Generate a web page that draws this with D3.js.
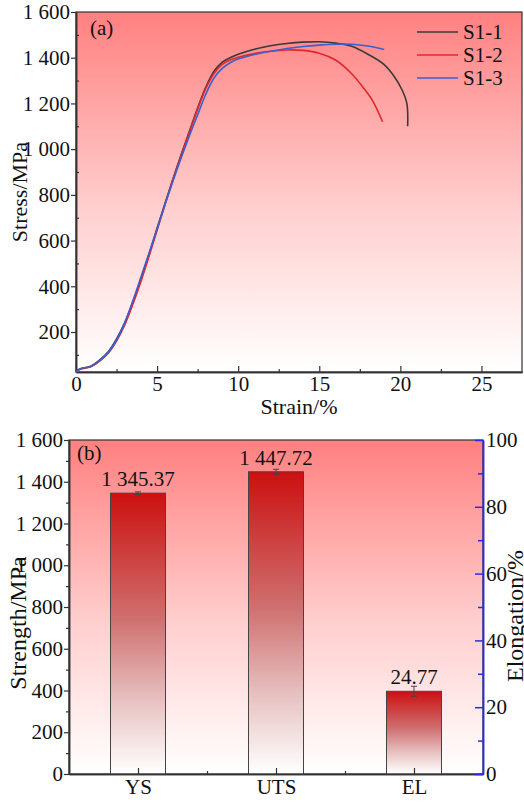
<!DOCTYPE html>
<html>
<head>
<meta charset="utf-8">
<script src="https://cdn.jsdelivr.net/npm/d3@7"></script>
<style>
  body { margin: 0; background: #fff; }
  svg text { font-family: "Liberation Serif", "Times New Roman", serif; fill: #111; }
</style>
</head>
<body>
<div id="chart-area"></div>
<script>
// ---- data (a): stress-strain curves, [strain %, stress MPa]
var s11 = [[0,30],[0.3,40],[0.9,50],[1.5,80],[2,115],[2.5,170],[3,240],[3.5,330],[4,430],[4.5,540],
    [5,655],[5.5,765],[6,875],[6.5,980],[7,1080],[7.5,1180],[8,1270],[8.5,1340],[9,1380],[9.5,1400],
    [10,1415],[11,1437],[12,1452],[13,1462],[14,1468],[15,1470],[16,1464],[17,1450],[18,1415],
    [19,1370],[19.6,1320],[20.1,1260],[20.4,1200],[20.45,1100]];
var s12 = [[0,28],[0.3,38],[0.9,48],[1.5,75],[2,108],[2.5,160],[3,230],[3.5,320],[4,420],[4.5,530],
    [5,645],[5.5,760],[6,870],[6.5,975],[7,1075],[7.5,1175],[8,1265],[8.5,1330],[9,1370],[9.5,1390],
    [10,1402],[11,1418],[12,1428],[13,1434],[14,1432],[15,1420],[16,1390],[17,1330],[17.7,1270],
    [18.3,1210],[18.9,1120]];
var s13 = [[0,25],[0.4,42],[0.9,48],[1.5,78],[2,112],[2.5,165],[3,240],[3.5,335],[4,440],[4.5,545],
    [5,650],[5.5,760],[6,865],[6.5,965],[7,1060],[7.5,1150],[8,1240],[8.5,1310],[9,1352],[9.5,1378],
    [10,1394],[11,1414],[12,1428],[13,1440],[14,1449],[15,1455],[16,1459],[17,1459],[18,1451],[19,1436]];
var seriesNames = ["S1-1", "S1-2", "S1-3"];
var seriesColours = ["#3a3a3a", "#e0282c", "#3a5fd0"];

// ---- data (b): mechanical properties
var props = ["YS", "UTS", "EL"];
var propValues = [1345.37, 1447.72, 24.77];
var propErrors = [6, 12, 1.5];
var propAxis = ["left", "left", "right"];   // EL is read on the elongation axis

const W = 524, H = 802;
const SERIF = "'Liberation Serif', 'Times New Roman', serif";
var fmt = d3.formatLocale({decimal: ".", thousands: " ", grouping: [3], currency: ["", ""]});

var svg = d3.select("#chart-area").append("svg")
    .attr("width", W)
    .attr("height", H);

var defs = svg.append("defs");
var bg = defs.append("linearGradient").attr("id", "bg")
    .attr("x1", 0).attr("y1", 0).attr("x2", 0).attr("y2", 1);
bg.append("stop").attr("offset", "0%").attr("stop-color", "#ff8080");
bg.append("stop").attr("offset", "55%").attr("stop-color", "#ffcfcf");
bg.append("stop").attr("offset", "100%").attr("stop-color", "#ffffff");

var barGrad = defs.append("linearGradient").attr("id", "barGrad")
    .attr("x1", 0).attr("y1", 0).attr("x2", 0).attr("y2", 1);
barGrad.append("stop").attr("offset", "0%").attr("stop-color", "#cc1010");
barGrad.append("stop").attr("offset", "45%").attr("stop-color", "#cf7070");
barGrad.append("stop").attr("offset", "75%").attr("stop-color", "#e8c4c4");
barGrad.append("stop").attr("offset", "100%").attr("stop-color", "#ffffff");

// ================= panel (a) =================
var marginA = {"left": 76, "right": 2, "top": 12, "bottom": 430};
var wA = W - marginA.left - marginA.right;
var hA = H - marginA.top - marginA.bottom;
var gA = svg.append("g")
    .attr("transform", "translate(" + marginA.left + "," + marginA.top + ")");

var xA = d3.scaleLinear().domain([0, 27.5]).range([0, wA]);
var yA = d3.scaleLinear().domain([25, 1600]).range([hA, 0]);

gA.append("rect")
    .attr("width", wA).attr("height", hA)
    .attr("fill", "url(#bg)")
    .attr("stroke", "#333").attr("stroke-width", 1.2);

// minor ticks
gA.append("g")
    .attr("transform", "translate(0," + hA + ")")
    .call(d3.axisBottom(xA).tickValues([2.5, 7.5, 12.5, 17.5, 22.5]).tickSize(-3).tickSizeOuter(0).tickFormat(""))
gA.append("g")
    .call(d3.axisLeft(yA).tickValues(d3.range(100, 1600, 200)).tickSize(-3).tickSizeOuter(0).tickFormat(""))

var xAxisA = gA.append("g")
    .attr("transform", "translate(0," + hA + ")")
    .call(d3.axisBottom(xA).tickValues([0, 5, 10, 15, 20, 25]).tickSize(-6).tickSizeOuter(0).tickPadding(4));
var yAxisA = gA.append("g")
    .call(d3.axisLeft(yA).tickValues(d3.range(200, 1601, 200)).tickSize(5).tickSizeOuter(0).tickPadding(1)
        .tickFormat(fmt.format(",")));

var line = d3.line()
    .x(function(d){ return xA(d[0]); })
    .y(function(d){ return yA(d[1]); })
    .curve(d3.curveCatmullRom.alpha(0.5));

[s11, s12, s13].forEach(function(s, i){
    gA.append("path")
        .datum(s)
        .attr("fill", "none")
        .attr("stroke", seriesColours[i])
        .attr("stroke-width", 1.6)
        .attr("d", line);
});

// legend
var legend = gA.append("g").attr("transform", "translate(" + (wA - 105) + ",20)");
seriesNames.forEach(function(name, i){
    var row = legend.append("g").attr("transform", "translate(0," + (i * 23) + ")");
    row.append("line")
        .attr("x1", 0).attr("x2", 41)
        .attr("stroke", seriesColours[i]).attr("stroke-width", 1.6);
    row.append("text")
        .attr("x", 46).attr("y", 7)
        .attr("font-size", "21px")
        .text(name);
});

gA.append("text")
    .attr("x", 14).attr("y", 23)
    .attr("font-size", "21px")
    .text("(a)");

//x label
gA.append("text")
    .attr("x", wA / 2)
    .attr("y", hA + 42)
    .attr("font-size", "22px")
    .attr("text-anchor", "middle")
    .text("Strain/%");

//y label
gA.append("text")
    .attr("transform", "rotate(-90)")
    .attr("x", -180)
    .attr("y", -49)
    .attr("font-size", "22px")
    .attr("text-anchor", "middle")
    .text("Stress/MPa");

// ================= panel (b) =================
var marginB = {"left": 69, "right": 41, "top": 440, "bottom": 28};
var wB = W - marginB.left - marginB.right;
var hB = H - marginB.top - marginB.bottom;
var gB = svg.append("g")
    .attr("transform", "translate(" + marginB.left + "," + marginB.top + ")");

var xB = d3.scalePoint().domain(props).range([0, wB]).padding(0.5);
var yB = d3.scaleLinear().domain([0, 1600]).range([hB, 0]);
var yB2 = d3.scaleLinear().domain([0, 100]).range([hB, 0]);
var barWidth = 55;

gB.append("rect")
    .attr("width", wB).attr("height", hB)
    .attr("fill", "url(#bg)")
    .attr("stroke", "#333").attr("stroke-width", 1.2);

function yFor(i){ return propAxis[i] === "right" ? yB2 : yB; }

var bars = gB.selectAll(".bar").data(propValues).enter().append("g").attr("class", "bar");
bars.append("rect")
    .attr("x", function(d, i){ return xB(props[i]) - barWidth / 2; })
    .attr("y", function(d, i){ return yFor(i)(d); })
    .attr("width", barWidth)
    .attr("height", function(d, i){ return hB - yFor(i)(d); })
    .attr("fill", "url(#barGrad)")
    .attr("stroke", "#444")
    .attr("stroke-width", 1);
// error bars
bars.append("path")
    .attr("fill", "none")
    .attr("stroke", "#444")
    .attr("stroke-width", 1)
    .attr("d", function(d, i){
        var cx = xB(props[i]), s = yFor(i);
        var y0 = s(d - propErrors[i]), y1 = s(d + propErrors[i]);
        return "M" + (cx - 3) + "," + y1 + "H" + (cx + 3) + "M" + cx + "," + y1 + "V" + y0 +
            "M" + (cx - 3) + "," + y0 + "H" + (cx + 3);
    });
bars.append("text")
    .attr("x", function(d, i){ return xB(props[i]); })
    .attr("y", function(d, i){ return yFor(i)(d) - 7; })
    .attr("font-size", "21px")
    .attr("text-anchor", "middle")
    .text(function(d){ return fmt.format(",.2f")(d); });

// x axis
gB.append("g")
    .attr("transform", "translate(0," + hB + ")")
    .call(d3.axisBottom(d3.scaleLinear().domain([0, 3]).range([0, wB]))
        .tickValues([1, 2]).tickSize(-3).tickSizeOuter(0).tickFormat(""));
gB.append("g")
    .attr("transform", "translate(0," + hB + ")")
    .call(d3.axisBottom(xB).tickSize(-6).tickSizeOuter(0).tickPadding(5));

// left axis
gB.append("g")
    .call(d3.axisLeft(yB).tickValues(d3.range(100, 1600, 200)).tickSize(3).tickSizeOuter(0).tickFormat(""));
gB.append("g")
    .call(d3.axisLeft(yB).tickValues(d3.range(0, 1601, 200)).tickSize(5).tickSizeOuter(0).tickPadding(1)
        .tickFormat(fmt.format(",")));

// right axis (elongation)
var rightAxis = gB.append("g")
    .attr("transform", "translate(" + wB + ",0)");
rightAxis.append("g")
    .call(d3.axisRight(yB2).tickValues([10, 30, 50, 70, 90]).tickSize(-5).tickSizeOuter(0).tickFormat(""));
rightAxis.append("g")
    .call(d3.axisRight(yB2).tickValues([0, 20, 40, 60, 80, 100]).tickSize(-8).tickSizeOuter(0).tickPadding(3));

gB.append("text")
    .attr("x", 8).attr("y", 20)
    .attr("font-size", "21px")
    .text("(b)");

gB.append("text")
    .attr("transform", "rotate(-90)")
    .attr("x", -(623 - marginB.top))
    .attr("y", -43)
    .attr("font-size", "24px")
    .attr("text-anchor", "middle")
    .text("Strength/MPa");

gB.append("text")
    .attr("transform", "rotate(-90)")
    .attr("x", -(616 - marginB.top))
    .attr("y", wB + 40)
    .attr("font-size", "24px")
    .attr("text-anchor", "middle")
    .text("Elongation/%");

// common axis styling
svg.selectAll(".tick text")
    .style("font-family", SERIF)
    .style("font-size", "21px")
    .style("fill", "#111");
svg.selectAll(".domain").attr("stroke", "#333").attr("stroke-width", 1.5);
svg.selectAll(".tick line").attr("stroke", "#333").attr("stroke-width", 1.2);
rightAxis.selectAll(".domain, .tick line").attr("stroke", "#2a2ae6").attr("stroke-width", 1.5);
</script>
</body>
</html>
